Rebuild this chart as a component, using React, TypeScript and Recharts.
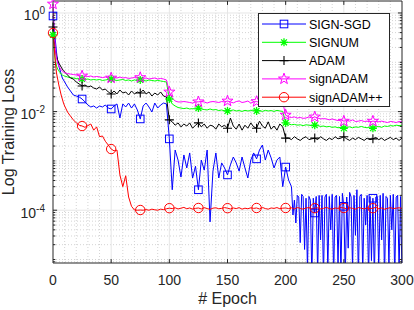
import { ComposedChart, Line, XAxis, YAxis, ReferenceLine } from 'recharts';

const FONT = '"Liberation Sans", Arial, Helvetica, sans-serif';
const AXIS = '#262626';

// sample epochs shared by the curves
const epochs = [
  0, 1, 2, 3, 4, 5, 6, 7, 8, 9, 10,
  12.5, 15, 17.5, 20, 22.5, 25, 27.5, 30, 32.5, 35, 37.5, 40, 42.5, 45, 47.5, 50,
  52.5, 55, 57.5, 60, 62.5, 65, 67.5, 70, 72.5, 75, 77.5, 80, 82.5, 85, 87.5, 90, 92.5, 95, 97.5, 100,
  102.5, 105, 107.5, 110, 112.5, 115, 117.5, 120, 122.5, 125, 127.5, 130, 132.5, 135, 137.5, 140, 142.5, 145, 147.5, 150,
  152.5, 155, 157.5, 160, 162.5, 165, 167.5, 170, 172.5, 175, 177.5, 180, 182.5, 185, 187.5, 190, 192.5, 195, 197.5, 200,
  202.5, 205, 207.5, 210, 212.5, 215, 217.5, 220, 222.5, 225, 227.5, 230, 232.5, 235, 237.5, 240, 242.5, 245, 247.5, 250,
  252.5, 255, 257.5, 260, 262.5, 265, 267.5, 270, 272.5, 275, 277.5, 280, 282.5, 285, 287.5, 290, 292.5, 295, 297.5, 300,
];

// SIGN-SGD up to epoch 202.5, then a denser tail where it oscillates
const signSgdLoss = [
  0.87, 0.496, 0.283, 0.162, 0.106, 0.084, 0.07, 0.0577, 0.048, 0.0438, 0.04,
  0.0316, 0.0262, 0.0217, 0.0207, 0.0198, 0.018, 0.0157, 0.0136, 0.0124, 0.013, 0.0118, 0.013, 0.0124, 0.0136, 0.0118, 0.0113,
  0.013, 0.0143, 0.0074, 0.0143, 0.0124, 0.0149, 0.0118, 0.0143, 0.0108, 0.0071, 0.013, 0.0149, 0.0124, 0.0098, 0.0149, 0.0118, 0.0136, 0.0149, 0.0143, 0.0028,
  0.00026, 0.00166, 0.00104, 0.00047, 0.00132, 0.00072, 0.00145, 0.00045, 0.00078, 0.00026, 0.00104, 0.00065, 0.00166, 0.000058, 0.00062, 0.00145, 0.00045, 0.00091, 0.00072, 0.00052,
  0.00083, 0.0012, 0.00091, 0.00062, 0.0012, 0.00072, 0.00045, 0.00104, 0.00145, 0.0011, 0.00166, 0.0021, 0.00104, 0.00166, 0.00115, 0.00072, 0.00104, 0.0012, 0.0003, 0.00075,
  0.00041,
];

const signSgdTailEpochs = [
  205, 206.25, 207.5, 208.75, 210, 211.25, 212.5, 213.75, 215, 216.25, 217.5, 218.75, 220, 221.25, 222.5, 223.75,
  225, 226.25, 227.5, 228.75, 230, 231.25, 232.5, 233.75, 235, 236.25, 237.5, 238.75, 240, 241.25, 242.5, 243.75,
  245, 246.25, 247.5, 248.75, 250, 251.25, 252.5, 253.75, 255, 256.25, 257.5, 258.75, 260, 261.25, 262.5, 263.75,
  265, 266.25, 267.5, 268.75, 270, 271.25, 272.5, 273.75, 275, 276.25, 277.5, 278.75, 280, 281.25, 282.5, 283.75,
  285, 286.25, 287.5, 288.75, 290, 291.25, 292.5, 293.75, 295, 296.25, 297.5, 298.75, 300,
];

const signSgdTailLoss = [
  3.0e-4, 8.0e-5, 1.6e-4, 5.5e-5, 2.0e-4, 1.85e-4, 2.2e-5, 2.1e-4, 1.9e-4, 1.6e-5, 1.75e-4, 6e-6, 1.9e-4, 1.6e-4, 4e-6, 1.75e-4,
  8.8e-5, 1.9e-4, 5e-6, 2.0e-4, 2.5e-5, 2.0e-4, 4e-6, 1.85e-4, 2.1e-4, 6e-6, 1.9e-4, 4e-5, 2.1e-4, 4e-6, 1.85e-4, 2.0e-4,
  7.5e-6, 1.9e-4, 5e-6, 2.2e-4, 1.2e-4, 4e-6, 1.85e-4, 1.7e-5, 2.3e-4, 1.85e-4, 6e-6, 2.0e-4, 3.1e-5, 2.6e-4, 4e-6, 1.9e-4,
  2.1e-4, 5e-6, 1.75e-4, 5e-5, 2.0e-4, 4e-6, 1.9e-4, 9.5e-6, 1.75e-4, 4e-6, 1.85e-4, 1.9e-4, 6e-6, 2.0e-4, 2.5e-5, 2.2e-4,
  4e-6, 1.9e-4, 1.75e-4, 7.5e-6, 2.0e-4, 4e-5, 2.1e-4, 4e-6, 1.85e-4, 2.0e-4, 6e-6, 1.9e-4, 5e-6,
];

const signumLoss = [
  0.36, 0.178, 0.111, 0.084, 0.073, 0.067, 0.062, 0.0577, 0.0552, 0.054, 0.0527,
  0.0503, 0.049, 0.048, 0.0469, 0.0458, 0.0458, 0.0448, 0.0458, 0.0438, 0.0448, 0.0438, 0.0448, 0.0428, 0.0438, 0.0448, 0.0458,
  0.0438, 0.0428, 0.0438, 0.0448, 0.0428, 0.0438, 0.0418, 0.0438, 0.0428, 0.0438, 0.0428, 0.0418, 0.0438, 0.0428, 0.0418, 0.0428, 0.0418, 0.0408, 0.0398, 0.018,
  0.0143, 0.013, 0.0121, 0.0118, 0.0115, 0.0118, 0.0113, 0.0115, 0.0113, 0.0118, 0.0113, 0.011, 0.0108, 0.0113, 0.0108, 0.011, 0.0105, 0.0108, 0.0103, 0.0103,
  0.0105, 0.0108, 0.0103, 0.0105, 0.0101, 0.0106, 0.0103, 0.0105, 0.0108, 0.0103, 0.0105, 0.0101, 0.0106, 0.0103, 0.0105, 0.0101, 0.0106, 0.0103, 0.0101, 0.0059,
  0.0056, 0.0054, 0.0055, 0.0053, 0.0054, 0.0052, 0.0054, 0.0053, 0.0052, 0.0053, 0.0052, 0.005, 0.0051, 0.0049, 0.005, 0.0048, 0.0049, 0.0047, 0.0048, 0.0046,
  0.0048, 0.0049, 0.0047, 0.0049, 0.0048, 0.005, 0.0048, 0.0047, 0.0049, 0.0046, 0.0049, 0.005, 0.0048, 0.0051, 0.005, 0.0052, 0.0051, 0.0053, 0.0052, 0.0053,
];

const adamLoss = [
  0.52, 0.283, 0.178, 0.134, 0.111, 0.0968, 0.0881, 0.08, 0.073, 0.068, 0.0635,
  0.0552, 0.048, 0.0458, 0.0398, 0.0363, 0.0331, 0.0347, 0.0316, 0.0331, 0.0301, 0.0287, 0.0316, 0.0274, 0.0287, 0.025, 0.0228,
  0.0262, 0.0228, 0.0274, 0.0238, 0.025, 0.0217, 0.0262, 0.0228, 0.025, 0.0238, 0.0274, 0.0228, 0.025, 0.0207, 0.0238, 0.0217, 0.025, 0.0207, 0.0198, 0.0068,
  0.0062, 0.0053, 0.0059, 0.0049, 0.0056, 0.0051, 0.0059, 0.0046, 0.0053, 0.0059, 0.0049, 0.0056, 0.0046, 0.0053, 0.0051, 0.0044, 0.0056, 0.0049, 0.0053, 0.0046,
  0.0074, 0.0051, 0.0044, 0.0056, 0.0042, 0.0053, 0.0046, 0.0059, 0.0049, 0.0046, 0.0064, 0.0051, 0.0046, 0.0062, 0.0044, 0.0051, 0.0042, 0.0056, 0.0049, 0.0029,
  0.0029, 0.0027, 0.0031, 0.0028, 0.0026, 0.0029, 0.0031, 0.0027, 0.0028, 0.0029, 0.0027, 0.0031, 0.0028, 0.0026, 0.0029, 0.0027, 0.0031, 0.0028, 0.0029, 0.0031,
  0.0028, 0.0026, 0.0029, 0.0027, 0.003, 0.0028, 0.0026, 0.0029, 0.0027, 0.0028, 0.003, 0.0027, 0.0029, 0.0026, 0.0028, 0.003, 0.0027, 0.0029, 0.0026, 0.0029,
];

const signAdamLoss = [
  1.52, 0.45, 0.195, 0.122, 0.0968, 0.084, 0.0766, 0.0698, 0.0667, 0.0635, 0.062,
  0.059, 0.0577, 0.0565, 0.0552, 0.054, 0.0527, 0.0527, 0.0515, 0.0527, 0.0503, 0.0515, 0.0503, 0.049, 0.0503, 0.049, 0.048,
  0.049, 0.048, 0.0503, 0.048, 0.049, 0.047, 0.048, 0.049, 0.048, 0.049, 0.047, 0.048, 0.0458, 0.047, 0.048, 0.0458, 0.047, 0.0458, 0.0438, 0.025,
  0.0189, 0.0164, 0.0157, 0.0157, 0.016, 0.0157, 0.0153, 0.0149, 0.0157, 0.0158, 0.016, 0.0157, 0.0149, 0.0157, 0.016, 0.0157, 0.0153, 0.016, 0.0157, 0.0164,
  0.0157, 0.015, 0.016, 0.0164, 0.0153, 0.0157, 0.0164, 0.0149, 0.0157, 0.016, 0.0153, 0.0157, 0.0149, 0.0157, 0.0153, 0.016, 0.0149, 0.0157, 0.0153, 0.0085,
  0.0078, 0.0076, 0.0078, 0.0074, 0.0076, 0.0073, 0.0074, 0.0078, 0.0074, 0.0078, 0.0074, 0.0071, 0.0072, 0.0071, 0.0068, 0.0071, 0.0068, 0.0066, 0.0068, 0.0064,
  0.0066, 0.0064, 0.0068, 0.0063, 0.0064, 0.0066, 0.0063, 0.0064, 0.0062, 0.0064, 0.0063, 0.0062, 0.0064, 0.0062, 0.006, 0.0063, 0.0062, 0.006, 0.0063, 0.0062,
];

const signAdamPlusLoss = [
  0.393, 0.204, 0.101, 0.0607, 0.0458, 0.0347, 0.0274, 0.0217, 0.018, 0.0149, 0.013,
  0.0098, 0.0081, 0.0068, 0.0059, 0.0053, 0.0051, 0.0048, 0.0052, 0.0056, 0.0042, 0.0049, 0.0031, 0.0032, 0.0025, 0.0021, 0.00174,
  0.0016, 0.00166, 0.00052, 0.0003, 0.0005, 0.000185, 0.00012, 0.000101, 0.0001, 0.000101, 0.0001, 0.000103, 0.0001, 0.000105, 0.000102, 0.0001, 0.000105, 0.000103, 0.000107, 0.00011,
  0.000108, 0.000112, 0.000106, 0.00011, 0.000114, 0.000107, 0.000111, 0.000105, 0.000109, 0.000111, 0.000106, 0.000113, 0.000108, 0.000104, 0.00011, 0.000112, 0.000107, 0.000109, 0.000113, 0.00011,
  0.000106, 0.000111, 0.000108, 0.000113, 0.000105, 0.00011, 0.000107, 0.000112, 0.000109, 0.000111, 0.000106, 0.000114, 0.000108, 0.000105, 0.000111, 0.000109, 0.000113, 0.000107, 0.00011, 0.000111,
  0.000108, 0.000112, 0.000106, 0.000114, 0.000109, 0.000105, 0.000111, 0.000113, 0.000107, 0.00011, 0.000112, 0.000106, 0.000109, 0.000114, 0.000108, 0.000105, 0.000111, 0.000109, 0.000113, 0.000111,
  0.000107, 0.000112, 0.000109, 0.000105, 0.000113, 0.00011, 0.000106, 0.000112, 0.000108, 0.00011, 0.000114, 0.000107, 0.000111, 0.000105, 0.000109, 0.000113, 0.000108, 0.00011, 0.000112, 0.000109,
];

const yMin = 8.5e-6;
const yMax = 1.75;
const xTicks = [0, 50, 100, 150, 200, 250, 300];
const xMinor = [10, 20, 30, 40, 60, 70, 80, 90, 110, 120, 130, 140, 160, 170, 180, 190, 210, 220, 230, 240, 260, 270, 280, 290];
const yTicks = [1e-4, 1e-2, 1];
const decades = [1e-6, 1e-5, 1e-4, 1e-3, 1e-2, 1e-1, 1];
const yMinor = decades
  .flatMap(d => [1, 2, 3, 4, 5, 6, 7, 8, 9].map(m => m * d))
  .filter(v => v >= yMin && v <= yMax && !yTicks.includes(v));

const toPoints = (vals: number[], xs: number[] = epochs) => vals.map((loss, i) => ({ epoch: xs[i], loss }));

const series = [
  { name: 'SIGN-SGD', color: '#0000ff', marker: 'square', data: [...toPoints(signSgdLoss), ...toPoints(signSgdTailLoss, signSgdTailEpochs)] },
  { name: 'SIGNUM', color: '#00ff00', marker: 'asterisk', data: toPoints(signumLoss) },
  { name: 'ADAM', color: '#000000', marker: 'plus', data: toPoints(adamLoss) },
  { name: 'signADAM', color: '#ff00ff', marker: 'star', data: toPoints(signAdamLoss) },
  { name: 'signADAM++', color: '#ff0000', marker: 'circle', data: toPoints(signAdamPlusLoss) },
];

function Marker({ kind, x, y, color }: { kind: string; x: number; y: number; color: string }) {
  if (kind === 'square') return <rect x={x - 3.8} y={y - 3.8} width={7.6} height={7.6} fill="none" stroke={color} />;
  if (kind === 'circle') return <circle cx={x} cy={y} r={4.7} fill="none" stroke={color} />;
  if (kind === 'plus') return <path d={`M${x - 4.5} ${y}H${x + 4.5}M${x} ${y - 4.5}V${y + 4.5}`} stroke={color} strokeWidth={1.1} />;
  if (kind === 'asterisk') {
    const a = 4, b = 2.9;
    return (
      <path
        d={`M${x - a} ${y}H${x + a}M${x} ${y - a}V${y + a}M${x - b} ${y - b}L${x + b} ${y + b}M${x - b} ${y + b}L${x + b} ${y - b}`}
        stroke={color}
        strokeWidth={1.3}
        fill="none"
      />
    );
  }
  const pts = Array.from({ length: 10 }, (_, i) => {
    const r = i % 2 === 0 ? 5.8 : 2.3;
    const a = -Math.PI / 2 + (i * Math.PI) / 5;
    return `${x + r * Math.cos(a)},${y + r * Math.sin(a)}`;
  }).join(' ');
  return <polygon points={pts} fill="none" stroke={color} />;
}

const XTick = ({ x, y, payload }: any) => (
  <text x={x} y={y + 22} textAnchor="middle" fill={AXIS} fontSize={14} fontFamily={FONT}>
    {payload.value}
  </text>
);

const YTick = ({ x, y, payload }: any) => {
  const exp = Math.round(Math.log10(payload.value));
  return (
    <text x={x - 8} y={y + 7.5} textAnchor="end" fill={AXIS} fontSize={14} fontFamily={FONT}>
      10
      <tspan dy={-6} fontSize={10}>{exp}</tspan>
    </text>
  );
};

function LegendBox() {
  return (
    <div
      style={{
        position: 'absolute', left: 258, top: 13, width: 132, height: 94,
        background: '#fff', border: `1px solid ${AXIS}`, boxSizing: 'border-box',
      }}
    >
      <svg width={130} height={92} style={{ display: 'block' }}>
        {series.map((s, i) => {
          const cy = 10 + i * 18.3;
          return (
            <g key={s.name}>
              <line x1={3} x2={47} y1={cy} y2={cy} stroke={s.color} />
              <Marker kind={s.marker} x={25} y={cy} color={s.color} />
              <text x={50} y={cy + 4.5} fontSize={12.5} fontFamily={FONT} fill="#000">{s.name}</text>
            </g>
          );
        })}
      </svg>
    </div>
  );
}

export default function App() {
  return (
    <div style={{ position: 'absolute', left: 0, top: 0, width: 414, height: 310, background: '#fff' }}>
      <ComposedChart width={414} height={310} margin={{ top: 1, right: 12, bottom: 0, left: 0 }} style={{ fontFamily: FONT }}>
        <XAxis
          dataKey="epoch" type="number" domain={[0, 300]} ticks={xTicks} tick={<XTick />}
          tickLine={false} tickSize={0} tickMargin={0} axisLine={{ stroke: AXIS }} height={47}
          label={{ value: '# Epoch', position: 'insideBottom', offset: 6, fill: AXIS, fontSize: 16, fontFamily: FONT }}
        />
        <XAxis xAxisId="m" dataKey="epoch" type="number" domain={[0, 300]} hide />
        <YAxis
          dataKey="loss" scale="log" domain={[yMin, yMax]} allowDataOverflow ticks={yTicks} tick={<YTick />}
          tickLine={false} tickSize={0} tickMargin={0} axisLine={{ stroke: AXIS }} width={53}
          label={{ value: 'Log Training Loss', angle: -90, position: 'insideLeft', offset: 8, fill: AXIS, fontSize: 16, fontFamily: FONT, style: { textAnchor: 'middle' } }}
        />
        <YAxis yAxisId="m" dataKey="loss" scale="log" domain={[yMin, yMax]} hide />

        {xMinor.map(v => <ReferenceLine key={`xm${v}`} x={v} stroke="#d4d4d4" strokeDasharray="1 2" />)}
        {yMinor.map(v => <ReferenceLine key={`ym${v}`} y={v} stroke="#d4d4d4" strokeDasharray="1 2" />)}
        {xTicks.slice(1, -1).map(v => <ReferenceLine key={`xg${v}`} x={v} stroke="#e6e6e6" />)}
        {yTicks.map(v => <ReferenceLine key={`yg${v}`} y={v} stroke="#e6e6e6" />)}

        {series.flatMap(s => [
          <Line
            key={s.name} data={s.data} dataKey="loss" stroke={s.color} strokeWidth={1}
            dot={false} activeDot={false} isAnimationActive={false}
          />,
          <Line
            key={`${s.name}-m`} xAxisId="m" yAxisId="m" dataKey="loss" stroke="none"
            data={s.data.filter(d => d.epoch % 25 === 0 && d.epoch < 300)}
            dot={(p: any) => <g key={p.index}><Marker kind={s.marker} x={p.cx} y={p.cy} color={s.color} /></g>}
            activeDot={false} isAnimationActive={false}
          />,
        ])}

        <ReferenceLine y={yMax} stroke={AXIS} ifOverflow="visible" />
        <ReferenceLine x={300} stroke={AXIS} ifOverflow="visible" />
        {yTicks.flatMap(v => [
          <ReferenceLine key={`lt${v}`} segment={[{ x: 0, y: v }, { x: 3.5, y: v }]} stroke={AXIS} ifOverflow="visible" />,
          <ReferenceLine key={`rt${v}`} segment={[{ x: 296.5, y: v }, { x: 300, y: v }]} stroke={AXIS} ifOverflow="visible" />,
        ])}
        {yMinor.flatMap(v => [
          <ReferenceLine key={`lm${v}`} segment={[{ x: 0, y: v }, { x: 2, y: v }]} stroke={AXIS} ifOverflow="visible" />,
          <ReferenceLine key={`rm${v}`} segment={[{ x: 298, y: v }, { x: 300, y: v }]} stroke={AXIS} ifOverflow="visible" />,
        ])}
        {xTicks.slice(1, -1).flatMap(v => [
          <ReferenceLine key={`bt${v}`} segment={[{ x: v, y: yMin }, { x: v, y: yMin * 1.2 }]} stroke={AXIS} ifOverflow="visible" />,
          <ReferenceLine key={`tt${v}`} segment={[{ x: v, y: yMax }, { x: v, y: yMax / 1.2 }]} stroke={AXIS} ifOverflow="visible" />,
        ])}
      </ComposedChart>
      <LegendBox />
    </div>
  );
}
